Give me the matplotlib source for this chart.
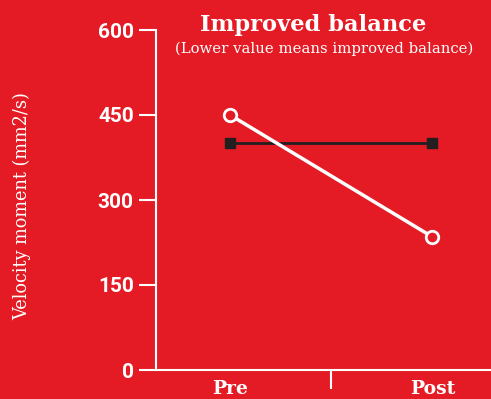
import matplotlib
matplotlib.use("Agg")
import matplotlib.pyplot as plt

# Data
phases = ["Pre", "Post"]
balance_group = [450, 235]
control_group = [400, 400]
y_ticks = [0, 150, 300, 450, 600]

red = "#e41b24"
dark = "#231f20"
slab = "DejaVu Serif"

fig = plt.figure(figsize=(4.91, 3.99), dpi=100, facecolor=red)
ax = fig.add_axes([156 / 491, 29 / 399, 1 - 156 / 491, 340 / 399])
ax.set_facecolor(red)

x = list(range(len(phases)))
ax.plot(x, control_group, color=dark, lw=2, marker="s", ms=7,
        mfc=dark, mec=dark, clip_on=False, zorder=2)
ax.plot(x, balance_group, color="white", lw=2.5, marker="o", ms=9,
        mfc=red, mec="white", mew=2, clip_on=False, zorder=3)

ax.set_xlim(-0.366, 1.29)
ax.set_ylim(0, 600)

for s in ["top", "right"]:
    ax.spines[s].set_visible(False)
for s in ["left", "bottom"]:
    ax.spines[s].set_color("white")
    ax.spines[s].set_linewidth(1.5)

ax.set_yticks(y_ticks)
ax.set_yticklabels([str(v) for v in y_ticks], fontsize=15, fontweight="bold",
                   color="white", fontfamily="Roboto")
ax.tick_params(axis="y", colors="white", length=12, width=1.5, pad=4)

ax.set_xticks(x)
ax.set_xticklabels(phases, fontsize=13.5, fontweight="bold", color="white",
                   fontfamily=slab)
ax.set_xticks([0.5], minor=True)
ax.tick_params(axis="x", which="major", length=0, pad=7)
ax.tick_params(axis="x", which="minor", colors="white", length=14, width=1.5)

fig.text(22 / 491, 1 - 206 / 399, "Velocity moment (mm2/s)", rotation=90,
         ha="center", va="center", fontsize=12.8, color="white", fontfamily=slab)

fig.text(313 / 491, 1 - 25 / 399, "Improved balance", ha="center", va="center",
         fontsize=16.3, fontweight="bold", color="white", fontfamily=slab)
fig.text(324 / 491, 1 - 49 / 399, "(Lower value means improved balance)",
         ha="center", va="center", fontsize=10.7, color="white", fontfamily=slab)

fig.savefig("out.png", dpi=100, facecolor=red)
